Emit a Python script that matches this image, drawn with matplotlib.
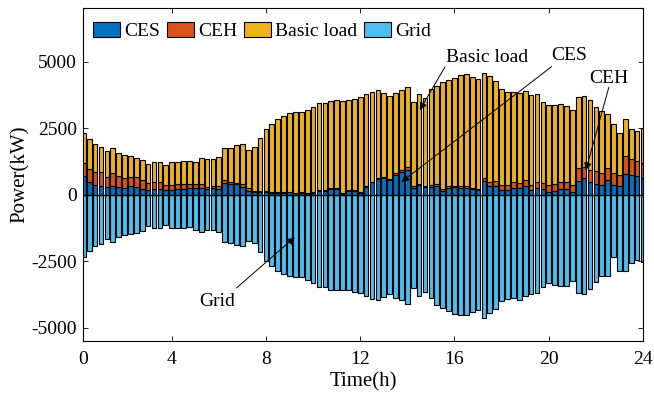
import numpy as np
import matplotlib.pyplot as plt

# 15-min time slots over one day (96 slots)
slot = np.arange(1, 97)

ces = [695, 467, 379, 341, 278, 341, 278, 265, 341, 303, 227, 189, 202, 227, 189, 177,
       214, 227, 252, 252, 265, 202, 239, 227, 441, 391, 416, 290, 151, 88, 88, 113,
       76, 76, 63, 88, 50, 50, 38, 63, 151, 151, 214, 214, 38, 139, 151, 76,
       290, 466, 605, 643, 542, 731, 857, 920, 265, 378, 290, 290, 315, 151, 265, 290,
       239, 252, 214, 164, 517, 340, 340, 189, 189, 252, 265, 315, 164, 239, 214, 113,
       139, 227, 227, 101, 504, 643, 466, 416, 353, 542, 353, 328, 769, 731, 693, 643]
ceh = [480, 493, 455, 505, 392, 455, 404, 366, 303, 341, 341, 265, 265, 240, 189, 202,
       202, 164, 139, 164, 151, 88, 76, 113, 101, 88, 25, 126, 101, 38, 38, 25,
       25, 25, 25, 25, 25, 38, 38, 25, 38, 25, 25, 25, 25, 25, 25, 25,
       25, 13, 38, 25, 63, 63, 63, 101, 50, 38, 38, 88, 76, 50, 76, 50,
       76, 88, 50, 63, 126, 151, 176, 164, 164, 214, 176, 227, 214, 252, 239, 252,
       277, 252, 239, 277, 479, 403, 454, 466, 441, 441, 441, 416, 680, 592, 554, 554]
basic_load = [1137, 1124, 1061, 960, 973, 960, 871, 846, 796, 745, 733, 682, 770, 770, 733, 834,
              819, 869, 882, 794, 958, 1033, 1008, 1058, 1222, 1260, 1411, 1499, 1424, 1651, 2016, 2344,
              2558, 2759, 2860, 2936, 3011, 3011, 3100, 3213, 3263, 3263, 3289, 3314, 3452, 3377, 3415, 3578,
              3452, 3364, 3276, 3150, 3087, 3024, 3011, 3024, 3150, 3352, 3289, 3591, 3679, 4032, 3982, 4060,
              4183, 4183, 4158, 4120, 3931, 3982, 3767, 3616, 3490, 3402, 3377, 3339, 3364, 3289, 3011, 3011,
              2961, 2923, 2848, 2810, 2684, 2671, 2621, 2394, 2331, 2029, 1852, 1588, 1411, 1134, 1159, 1323]
grid = [-2362, -2134, -1932, -1857, -1680, -1793, -1604, -1516, -1490, -1440, -1351, -1187, -1263, -1263, -1149, -1250,
        -1247, -1247, -1222, -1348, -1411, -1323, -1323, -1411, -1789, -1827, -1890, -1928, -1726, -1827, -2167, -2507,
        -2696, -2885, -2986, -3074, -3112, -3112, -3200, -3339, -3465, -3478, -3566, -3578, -3566, -3591, -3641, -3704,
        -3818, -3919, -3956, -3856, -3742, -3881, -3969, -4095, -3490, -3793, -3654, -3893, -4133, -4271, -4372, -4498,
        -4523, -4523, -4397, -4334, -4624, -4460, -4309, -3994, -3906, -3893, -3944, -3805, -3742, -3704, -3465, -3339,
        -3389, -3427, -3427, -3238, -3704, -3742, -3553, -3301, -3049, -3049, -2356, -2885, -2885, -2583, -2444, -2545]

hour_ticks = [1, 16, 32, 48, 64, 80, 96]
hour_labels = ["0", "4", "8", "12", "16", "20", "24"]

c_ces = "#0072BD"
c_ceh = "#D95319"
c_basic = "#EDB120"
c_grid = "#4DBEEE"

plt.rcParams["font.family"] = ["Liberation Serif", "DejaVu Serif"]
plt.rcParams["axes.unicode_minus"] = False

fig = plt.figure(figsize=(6.54, 3.94), dpi=100)
ax = fig.add_axes([0.1274, 0.1345, 0.8558, 0.8444])

ces = np.array(ces)
ceh = np.array(ceh)
basic_load = np.array(basic_load)

bar_kw = dict(width=0.8, edgecolor="black", linewidth=0.8)
ax.bar(slot, ces, color=c_ces, label="CES", **bar_kw)
ax.bar(slot, ceh, bottom=ces, color=c_ceh, label="CEH", **bar_kw)
ax.bar(slot, basic_load, bottom=ces + ceh, color=c_basic, label="Basic load", **bar_kw)
ax.bar(slot, grid, color=c_grid, label="Grid", **bar_kw)
ax.axhline(0, color="black", linewidth=1.0)

ax.set_xlim(1, 96)
ax.set_ylim(-5500, 7000)
ax.set_xticks(hour_ticks)
ax.set_xticklabels(hour_labels)
ax.set_yticks([-5000, -2500, 0, 2500, 5000])
ax.tick_params(direction="in", top=True, right=True, length=3.6, width=0.6,
               labelsize=14)
ax.tick_params(axis="x", pad=7)
ax.tick_params(axis="y", pad=4.5)
for s in ax.spines.values():
    s.set_linewidth(0.8)
ax.set_xlabel("Time(h)", fontsize=15, labelpad=3)
ax.set_ylabel("Power(kW)", fontsize=15, labelpad=1)

ax.legend(loc="upper left", bbox_to_anchor=(0.0, 0.988), ncol=4, frameon=False,
          fontsize=14, handlelength=1.4, handleheight=0.8, handletextpad=0.2,
          columnspacing=0.35, borderaxespad=0.2, borderpad=0.3)

# annotations with arrows
arrow_kw = dict(arrowstyle="-|>", color="black", lw=0.7, mutation_scale=11,
                shrinkA=0, shrinkB=0)
ax.text(69.5, 5160, "Basic load", fontsize=14, ha="center", va="center")
ax.annotate("", xy=(58.1, 3180), xytext=(62.4, 4800), arrowprops=arrow_kw)
ax.text(83.5, 5230, "CES", fontsize=14, ha="center", va="center")
ax.annotate("", xy=(55.0, 475), xytext=(80.5, 4810), arrowprops=arrow_kw)
ax.text(90.2, 4345, "CEH", fontsize=14, ha="center", va="center")
ax.annotate("", xy=(86.3, 916), xytext=(90.2, 4035), arrowprops=arrow_kw)
ax.text(23.8, -4024, "Grid", fontsize=14, ha="center", va="center")
ax.annotate("", xy=(36.9, -1600), xytext=(27.0, -3507), arrowprops=arrow_kw)

fig.savefig("out.png", dpi=100)
